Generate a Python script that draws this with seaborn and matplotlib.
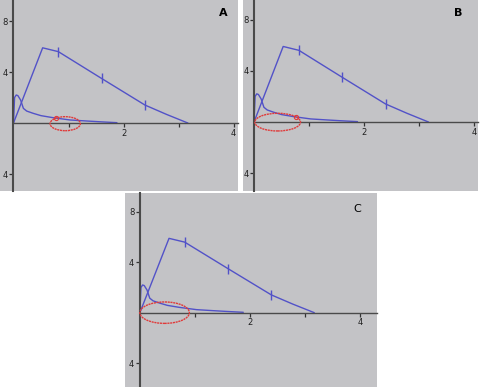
import matplotlib
matplotlib.use("Agg")
import matplotlib.pyplot as plt
import seaborn as sns
import pandas as pd
from matplotlib.patches import Ellipse

# ---- data ----
panels = ["A", "B", "C"]
big_x = [0, 0.53, 0.815, 1.6, 2.39, 2.78, 3.17]
big_y = [0, 5.9, 5.6, 3.5, 1.41, 0.68, 0]
tick_x = [0.815, 1.6, 2.39]
tick_y = [5.6, 3.5, 1.41]
spike_x = [0, 0.02, 0.05, 0.08, 0.13, 0.18, 0.24, 0.36, 0.5, 0.72, 1.03, 1.33, 1.57, 1.88]
spike_y = [0, 2.0, 2.2, 2.15, 1.8, 1.15, 0.94, 0.76, 0.58, 0.42, 0.24, 0.16, 0.1, 0.03]
# red hand-drawn loops: centre x, centre y, width, height
loop_cx = [0.94, 0.43, 0.45]
loop_cy = [-0.05, -0.01, 0.0]
loop_w = [0.55, 0.83, 0.9]
loop_h = [1.1, 1.38, 1.7]
knot_x = [0.77, 0.76, None]
knot_y = [0.37, 0.37, None]
xticks = [1, 2, 3, 4]
xticklabels = ["", "2", "", "4"]
yticks = [8, 4, -4]
yticklabels = ["8", "4", "4"]

W, H = 480, 387
# panel boxes in pixels: left, top, right, bottom
boxes = [(0, 0, 238, 190.5), (243, 0, 478, 190.5), (125, 193, 377, 387)]
xlims = [(-0.245, 4.08), (-0.2, 4.07), (-0.27, 4.31)]
ylims = [(-5.29, 9.65), (-5.35, 9.53), (-5.9, 9.5)]
label_pos = [(0.94, 0.93), (0.915, 0.93), (0.92, 0.92)]

sns.set_style("white")
plt.rcParams["font.family"] = ["DejaVu Sans"]

blue = "#5252c8"
red = "#e03a3a"
gray_bg = "#c3c3c6"
axis_col = "#4a4a4a"

fig = plt.figure(figsize=(W / 100, H / 100), dpi=100)
fig.patch.set_facecolor("white")

big_df = pd.DataFrame({"x": big_x, "y": big_y})
spike_df = pd.DataFrame({"x": spike_x, "y": spike_y})
tick_df = pd.DataFrame({"x": tick_x, "y": tick_y})

for i, name in enumerate(panels):
    l, t, r, b = boxes[i]
    ax = fig.add_axes([l / W, 1 - b / H, (r - l) / W, (b - t) / H])
    ax.set_facecolor(gray_bg)
    ax.set_xlim(*xlims[i])
    ax.set_ylim(*ylims[i])

    sns.lineplot(data=big_df, x="x", y="y", sort=False, estimator=None,
                 color=blue, lw=1.0, ax=ax)
    sns.lineplot(data=spike_df, x="x", y="y", sort=False, estimator=None,
                 color=blue, lw=1.0, ax=ax)
    sns.scatterplot(data=tick_df, x="x", y="y", marker="|", s=45,
                    linewidth=1.0, color=blue, ax=ax, zorder=4)

    ax.add_patch(Ellipse((loop_cx[i], loop_cy[i]), loop_w[i], loop_h[i],
                         fill=False, edgecolor=red, lw=1.0,
                         linestyle=(0, (1.5, 0.5)), zorder=5))
    if knot_x[i] is not None:
        ax.plot([knot_x[i]], [knot_y[i]], marker="o", ms=3, mfc="none",
                mec=red, mew=0.8, zorder=5)

    for s in ["top", "right"]:
        ax.spines[s].set_visible(False)
    ax.spines["left"].set_position(("data", 0))
    ax.spines["bottom"].set_position(("data", 0))
    ax.spines["left"].set_color(axis_col)
    ax.spines["left"].set_linewidth(1.5)
    ax.spines["bottom"].set_color(axis_col)
    ax.spines["bottom"].set_linewidth(1.0)
    ax.spines["bottom"].set_bounds(0, xlims[i][1])

    ax.set_xticks(xticks)
    ax.set_xticklabels(xticklabels)
    ax.set_yticks(yticks)
    ax.set_yticklabels(yticklabels)
    ax.tick_params(axis="both", direction="out", length=3, width=0.9,
                   color="#333333", labelsize=6, labelcolor="#222222", pad=1,
                   left=True, bottom=True)
    ax.set_xlabel("")
    ax.set_ylabel("")

    ax.text(label_pos[i][0], label_pos[i][1], name, transform=ax.transAxes,
            ha="center", va="center", fontsize=8,
            fontweight="bold" if name != "C" else "normal", color="black")

fig.savefig("out.png", dpi=100, facecolor="white")
